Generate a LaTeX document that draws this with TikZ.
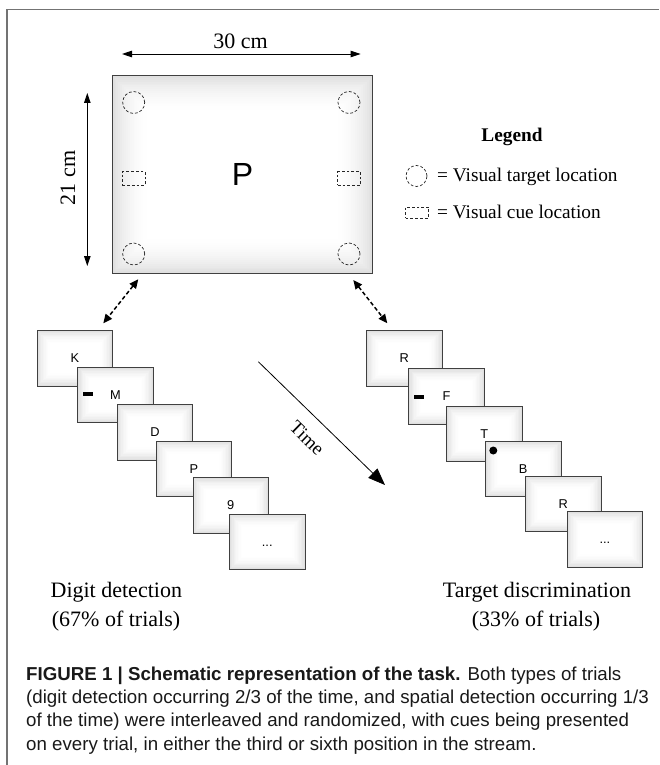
\documentclass[tikz,border=0pt]{standalone}
\usepackage{fontspec}
\setmainfont{Liberation Serif}
\setsansfont{Liberation Sans}
\usetikzlibrary{arrows.meta,calc}
\tikzset{
  gradfill/.style 2 args={path picture={
    \foreach \i [evaluate=\i as \g using {12*((#1-\i)/#1)^2}, evaluate=\i as \o using {\i*#2}] in {0,...,#1}
      {\fill[black!\g] ($(path picture bounding box.north west)+(\o,\o)$) rectangle ($(path picture bounding box.south east)-(\o,\o)$);}
  }},
  screen/.style={draw=black!75, line width=1pt, gradfill={20}{1.9}, minimum width=259.7pt, minimum height=197.3pt, inner sep=0pt, font=\sffamily\fontsize{32}{36}\selectfont},
  frm/.style={draw=black!75, line width=0.9pt, gradfill={10}{1.4}, minimum width=75.6pt, minimum height=55.6pt, inner sep=0pt, anchor=north west, font=\sffamily\fontsize{12.8}{14}\selectfont},
  tgt/.style={draw=black!85, circle, minimum size=22pt, inner sep=0pt, line width=0.7pt, dash pattern=on 2.8pt off 2pt},
  cuebox/.style={draw=black!85, rectangle, minimum width=23pt, minimum height=13.5pt, inner sep=0pt, line width=0.7pt, dash pattern=on 2.8pt off 2pt},
  cuebar/.style={fill=black, minimum width=10pt, minimum height=4pt, inner sep=0pt},
  dotcue/.style={fill=black, circle, minimum size=8pt, inner sep=0pt},
  dimarrow/.style={line width=0.9pt, {Triangle[length=10pt,width=6.5pt]}-{Triangle[length=10pt,width=6.5pt]}},
  linkarrow/.style={line width=1.5pt, dash pattern=on 4pt off 2.5pt, {Triangle[length=9pt,width=8pt]}-{Triangle[length=9pt,width=8pt]}},
  timearrow/.style={line width=0.8pt, -{Triangle[length=17pt,width=13pt]}},
  bigtext/.style={font=\fontsize{22}{26}\selectfont, inner sep=0pt},
  legtext/.style={font=\fontsize{19.3}{22}\selectfont, inner sep=0pt},
  capline/.style={font=\sffamily\fontsize{18.7}{22}\selectfont, inner sep=0pt, anchor=base west, text=black!90},
  outerline/.style={draw=black!55, line width=1.2pt}
}
\begin{document}
\begin{tikzpicture}[x=1pt,y=-1pt]
\useasboundingbox (0,0) rectangle (659,765);
% outer frame
\coordinate (o1) at (7,765);
\coordinate (o2) at (7,9.5);
\coordinate (o3) at (659,9.5);
\draw[outerline] (o1) -- (o2) -- (o3);

% dimensions
\node[bigtext, anchor=base] (w30) at (240.5,48.3) {30 cm};
\coordinate (hA) at (122,54);
\coordinate (hB) at (360.6,54);
\draw[dimarrow] (hA) -- (hB);
\node[bigtext, rotate=90] (h21) at (68,178) {21 cm};
\coordinate (vA) at (87.3,93);
\coordinate (vB) at (87.3,266);
\draw[dimarrow] (vA) -- (vB);

% screen
\node[screen] (scr) at (242.5,174.6) {P};
\node[tgt] (c1) at (133.7,102.5) {};
\node[tgt] (c2) at (349,102.5) {};
\node[tgt] (c3) at (133.7,254) {};
\node[tgt] (c4) at (349,254) {};
\node[cuebox] (q1) at (133.7,178.5) {};
\node[cuebox] (q2) at (349.3,178.5) {};

% legend
\node[legtext, anchor=base, font=\bfseries\fontsize{19.3}{22}\selectfont] (lgT) at (512,141.7) {Legend};
\node[tgt, minimum size=21pt] (lc) at (416.5,176) {};
\node[legtext, anchor=base west] (lg1) at (437,181.7) {= Visual target location};
\node[cuebox, minimum height=11pt] (lq) at (417,212.5) {};
\node[legtext, anchor=base west] (lg2) at (437,218.3) {= Visual cue location};

% links
\coordinate (lA) at (138.3,279.3);
\coordinate (lB) at (103.3,323.3);
\draw[linkarrow] (lA) -- (lB);
\coordinate (rA) at (353.3,280);
\coordinate (rB) at (387.3,323.3);
\draw[linkarrow] (rA) -- (rB);

% left stream
\node[frm] (fL1) at (36.7,330) {K};
\node[frm] (fL2) at (77.3,366.7) {M};
\node[cuebar] (barL) at ($(fL2.north west)+(10.4,27.6)$) {};
\node[frm] (fL3) at (116.7,404) {D};
\node[frm] (fL4) at (155.7,440.5) {P};
\node[frm] (fL5) at (192.5,477.3) {9};
\node[frm] (fL6) at (229,513.5) {\vphantom{K}...};

% right stream
\node[frm] (fR1) at (366,330) {R};
\node[frm] (fR2) at (408.3,368.3) {F};
\node[cuebar] (barR) at ($(fR2.north west)+(11,28.7)$) {};
\node[frm] (fR3) at (446,405.7) {T};
\node[frm] (fR4) at (485,440.5) {B};
\node[dotcue] (dotR) at ($(fR4.north west)+(8.3,10)$) {};
\node[frm] (fR5) at (525,475.5) {R};
\node[frm] (fR6) at (566.7,511) {\vphantom{K}...};

% time
\coordinate (tA) at (258.3,361.7);
\coordinate (tB) at (385,485);
\draw[timearrow] (tA) -- (tB);
\node[font=\fontsize{19}{22}\selectfont, inner sep=0pt, rotate=-44] (time) at (307,438) {Time};

% stream captions
\node[bigtext, anchor=base] (dd1) at (116.3,597) {Digit detection};
\node[bigtext, anchor=base] (dd2) at (116,626) {(67\% of trials)};
\node[bigtext, anchor=base] (td1) at (537,597) {Target discrimination};
\node[bigtext, anchor=base] (td2) at (536,626) {(33\% of trials)};

% figure caption
\node[capline] (fc1) at (26,680) {\textbf{FIGURE 1 | Schematic representation of the task.} Both types of trials};
\node[capline] (fc2) at (26,703) {(digit detection occurring 2/3 of the time, and spatial detection occurring 1/3};
\node[capline] (fc3) at (26,726.5) {of the time) were interleaved and randomized, with cues being presented};
\node[capline] (fc4) at (26,750) {on every trial, in either the third or sixth position in the stream.};
\end{tikzpicture}
\end{document}
